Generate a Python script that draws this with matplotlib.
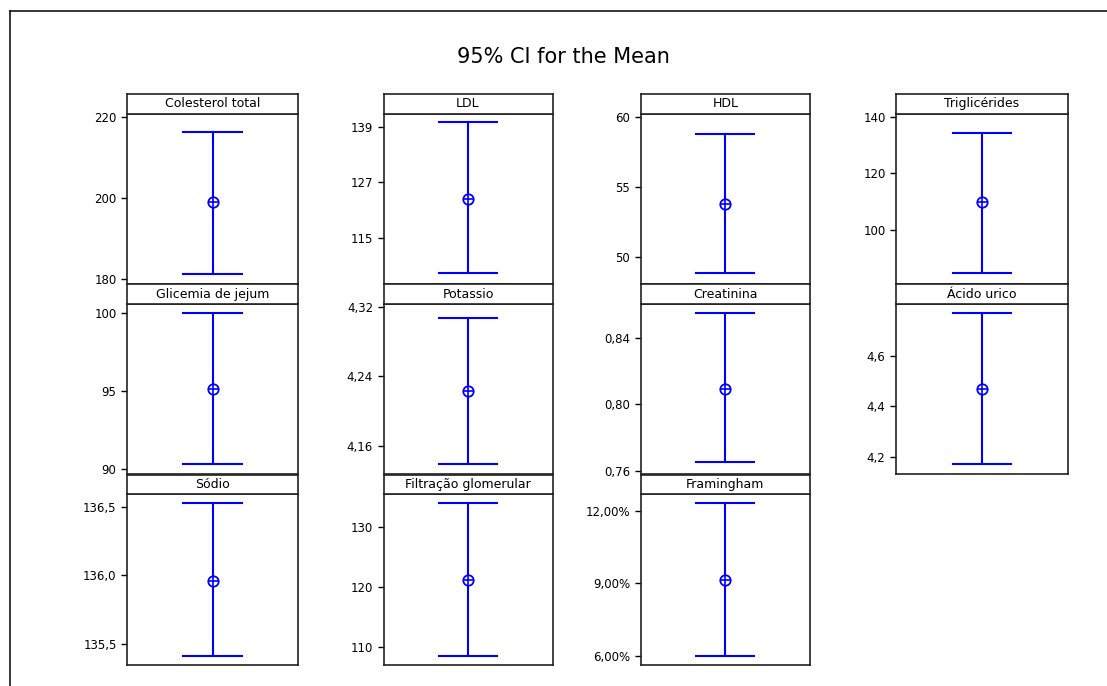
import numpy as np
import matplotlib
matplotlib.use('Agg')
import matplotlib.pyplot as plt
from matplotlib.lines import Line2D

# Données (IC 95% de la moyenne)
noms = ['Colesterol total', 'LDL', 'HDL', 'Triglicérides',
        'Glicemia de jejum', 'Potassio', 'Creatinina', 'Ácido urico',
        'Sódio', 'Filtração glomerular', 'Framingham']
moyennes = [198.9, 123.4, 53.77, 109.8, 95.1, 4.2235, 0.8094, 4.470, 135.958, 121.2, 9.14]
bas = [181.2, 107.3, 48.86, 84.7, 90.34, 4.139, 0.7652, 4.174, 135.41, 108.5, 5.99]
haut = [216.3, 140.1, 58.77, 134.35, 100.0, 4.3066, 0.855, 4.769, 136.525, 133.9, 12.31]

# Graduations de l'axe y
graduations = [[180, 200, 220], [115, 127, 139], [50, 55, 60], [100, 120, 140],
               [90, 95, 100], [4.16, 4.24, 4.32], [0.76, 0.80, 0.84], [4.2, 4.4, 4.6],
               [135.5, 136.0, 136.5], [110, 120, 130], [6, 9, 12]]
decimales = [0, 0, 0, 0, 0, 2, 2, 1, 1, 0, 2]
limites = [(178.8, 220.9), (105.0, 142.0), (48.14, 60.23), (81.1, 141.1),
           (89.7, 100.55), (4.1274, 4.3231), (0.7582, 0.8602), (4.134, 4.8035),
           (135.347, 136.59), (107.07, 135.37), (5.63, 12.68)]

W, H = 1107, 686
fig = plt.figure(figsize=(W / 100, H / 100), dpi=100)

# cadre (gauche et haut seulement, le reste est coupé)
fig.add_artist(Line2D([10 / W, 10 / W], [0, 1 - 11 / H], color='black', lw=1.1))
fig.add_artist(Line2D([10 / W, 1], [1 - 11 / H, 1 - 11 / H], color='black', lw=1.1))

fig.text(563 / W, 1 - 57 / H, '95% CI for the Mean', ha='center', va='center', fontsize=15)

# positions des panneaux en pixels
gauches = [127, 383.5, 640.5, 896]
largeurs = [171, 169, 169.5, 172]
lignes = [(94, 113.5, 283.5), (284, 304, 474), (475, 494.3, 665)]

bleu = '#0000ff'

for i, nom in enumerate(noms):
    r, c = divmod(i, 4)
    x0 = gauches[c]
    largeur = largeurs[c]
    y_tete, y_haut, y_bas = lignes[r]

    ax = fig.add_axes([x0 / W, 1 - y_bas / H, largeur / W, (y_bas - y_haut) / H])
    ax.plot([0, 0], [bas[i], haut[i]], color=bleu, lw=1.5)
    ax.plot([-0.34, 0.34], [bas[i], bas[i]], color=bleu, lw=1.5)
    ax.plot([-0.34, 0.34], [haut[i], haut[i]], color=bleu, lw=1.5)
    ax.plot(0, moyennes[i], 'o', ms=7.5, mfc='white', mec=bleu, mew=1.3)
    ax.plot(0, moyennes[i], '+', ms=7.5, mec=bleu, mew=1.2)

    ax.set_xlim(-1, 1)
    ax.set_ylim(*limites[i])
    ax.set_xticks([])
    ax.set_yticks(graduations[i])
    if nom == 'Framingham':
        etiquettes = ['{:.2f}%'.format(v).replace('.', ',') for v in graduations[i]]
    else:
        etiquettes = ['{:.{d}f}'.format(v, d=decimales[i]).replace('.', ',') for v in graduations[i]]
    ax.set_yticklabels(etiquettes)
    ax.tick_params(axis='y', length=4, width=1.0, pad=3.5, labelsize=8.5)
    for s in ax.spines.values():
        s.set_linewidth(1.2)
        s.set_color('#222222')

    # bandeau du titre
    axt = fig.add_axes([x0 / W, 1 - y_haut / H, largeur / W, (y_haut - y_tete) / H])
    axt.set_xticks([])
    axt.set_yticks([])
    for s in axt.spines.values():
        s.set_linewidth(1.2)
        s.set_color('#222222')
    axt.text(0.5, 0.5, nom, ha='center', va='center', fontsize=9, transform=axt.transAxes)

fig.savefig('out.png', dpi=100)
